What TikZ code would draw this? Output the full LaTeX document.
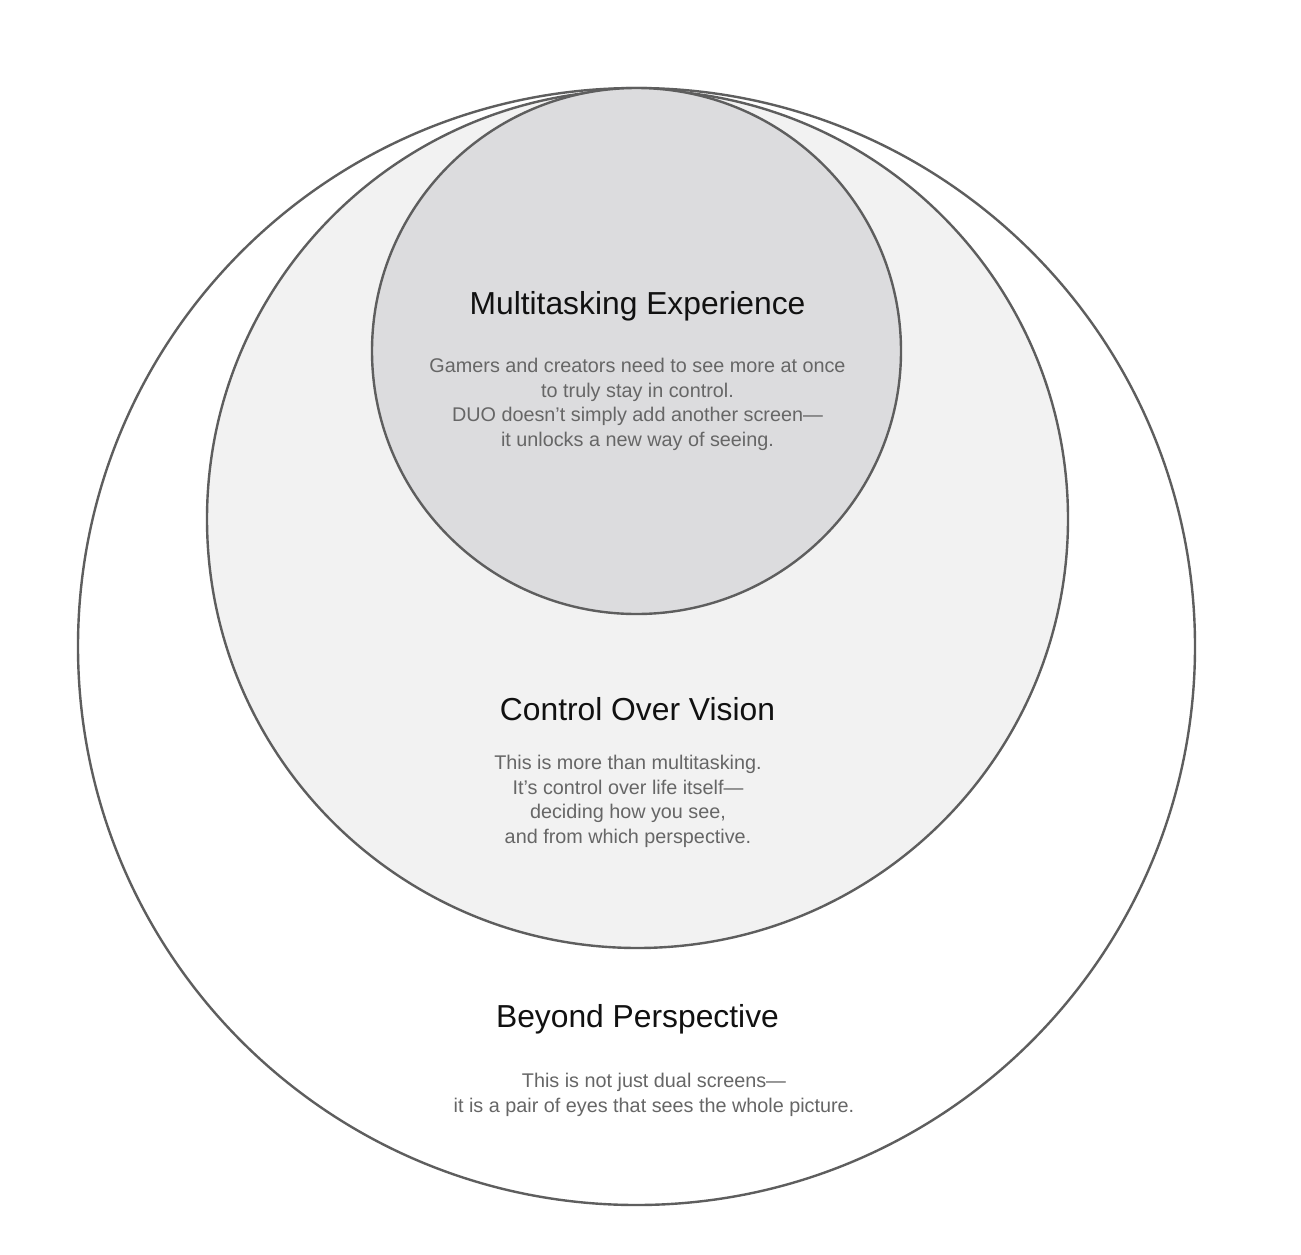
\documentclass[tikz,border=0pt]{standalone}
\usepackage{fontspec}
\setmainfont{Liberation Sans}
\definecolor{strokec}{HTML}{5E5E5E}
\definecolor{midfill}{HTML}{F2F2F2}
\definecolor{innfill}{HTML}{DCDCDE}
\definecolor{titlec}{HTML}{111111}
\definecolor{bodyc}{HTML}{666666}
\tikzset{
  ring/.style={draw=strokec, line width=2.4pt},
  ttl/.style={text=titlec, font=\fontsize{31.8}{36}\selectfont, inner sep=0pt, anchor=center},
  bdy/.style={text=bodyc, font=\fontsize{19.8}{24.7}\selectfont, align=center, inner sep=0pt, anchor=north}
}
\begin{document}
\begin{tikzpicture}[x=1pt,y=-1pt]
\useasboundingbox (0,0) rectangle (1301,1255);
\fill[white] (0,0) rectangle (1301,1255);
\draw[ring, fill=white] (636.5,646.5) ellipse [x radius=558.5, y radius=558.5];
\draw[ring, fill=midfill] (637.5,519) ellipse [x radius=430.5, y radius=429];
\draw[ring, fill=innfill] (636.5,351) ellipse [x radius=264.5, y radius=263];
\node[ttl] (t1) at (637.5,306) {Multitasking Experience};
\node[bdy] (b1) at (637.5,358) {Gamers and creators need to see more at once\\to truly stay in control.\\DUO doesn’t simply add another screen—\\it unlocks a new way of seeing.};
\node[ttl] (t2) at (637.5,709) {Control Over Vision};
\node[bdy] (b2) at (628,755) {This is more than multitasking.\\It’s control over life itself—\\deciding how you see,\\and from which perspective.};
\node[ttl] (t3) at (637.5,1019) {Beyond Perspective};
\node[bdy] (b3) at (654,1073) {This is not just dual screens—\\it is a pair of eyes that sees the whole picture.};
\end{tikzpicture}
\end{document}
